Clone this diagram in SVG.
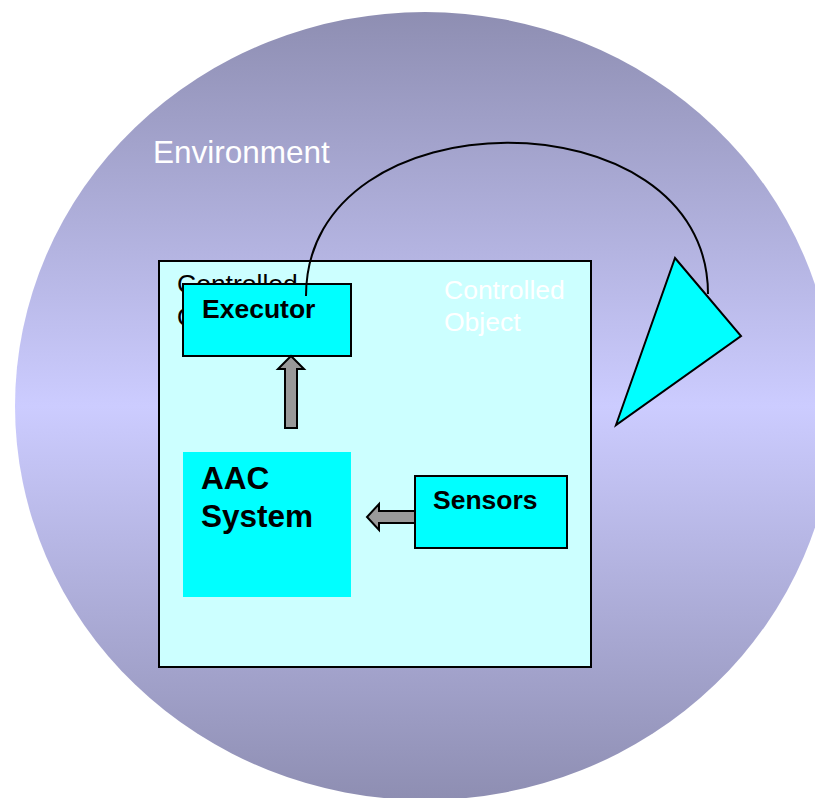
<svg xmlns="http://www.w3.org/2000/svg" width="815" height="798" viewBox="0 0 815 798">
<defs>
<linearGradient id="envGrad" x1="0" y1="0" x2="0" y2="1">
<stop offset="0" stop-color="#8e8eb2"/>
<stop offset="0.5" stop-color="#ccccff"/>
<stop offset="1" stop-color="#8e8eb2"/>
</linearGradient>
<style>
.box{fill:#00ffff;stroke:#000;stroke-width:2}
.lbl{font-family:"Liberation Sans",Arial,sans-serif;font-weight:bold;fill:#000}
.wt{font-family:"Liberation Sans",Arial,sans-serif;fill:#fff}
.arrow{fill:#999999;stroke:#000;stroke-width:2;stroke-linejoin:miter}
</style>
</defs>
<rect width="815" height="798" fill="#fff"/>
<g id="environment">
<ellipse cx="425" cy="406" rx="410" ry="394" fill="url(#envGrad)"/>
<text class="wt" x="153" y="163" font-size="31.5">Environment</text>
</g>
<g id="controlled-object">
<rect x="159" y="261" width="432" height="406" fill="#ccffff" stroke="#000" stroke-width="2"/>
<text font-family="Liberation Sans, Arial, sans-serif" font-size="26.5" fill="#000" x="177" y="293">Controlled</text>
<text font-family="Liberation Sans, Arial, sans-serif" font-size="26.5" fill="#000" x="177" y="326">Object</text>
<text class="wt" x="444" y="299" font-size="26.5">Controlled</text>
<text class="wt" x="444" y="331" font-size="26.5">Object</text>
</g>
<g id="executor">
<rect class="box" x="183" y="284" width="168" height="72"/>
<text class="lbl" x="202" y="318" font-size="26.5">Executor</text>
</g>
<g id="aac-system">
<rect x="183" y="452" width="168" height="145" fill="#00ffff"/>
<text class="lbl" x="201" y="489" font-size="31.5">AAC</text>
<text class="lbl" x="201" y="527" font-size="31.5">System</text>
</g>
<g id="sensors">
<rect class="box" x="415" y="476" width="152" height="72"/>
<text class="lbl" x="433" y="509" font-size="26.5">Sensors</text>
</g>
<g id="plant">
<polygon points="675,258 741,336 616,425" fill="#00ffff" stroke="#000" stroke-width="2"/>
</g>
<g id="connectors">
<path d="M306,296 C306,92 708,92 708,294" fill="none" stroke="#000" stroke-width="2"/>
<polygon class="arrow" points="285,428 297,428 297,369 304,369 291,356 278,369 285,369"/>
<polygon class="arrow" points="415,511 379,511 379,504 367,517 379,530 379,523 415,523"/>
</g>
</svg>
